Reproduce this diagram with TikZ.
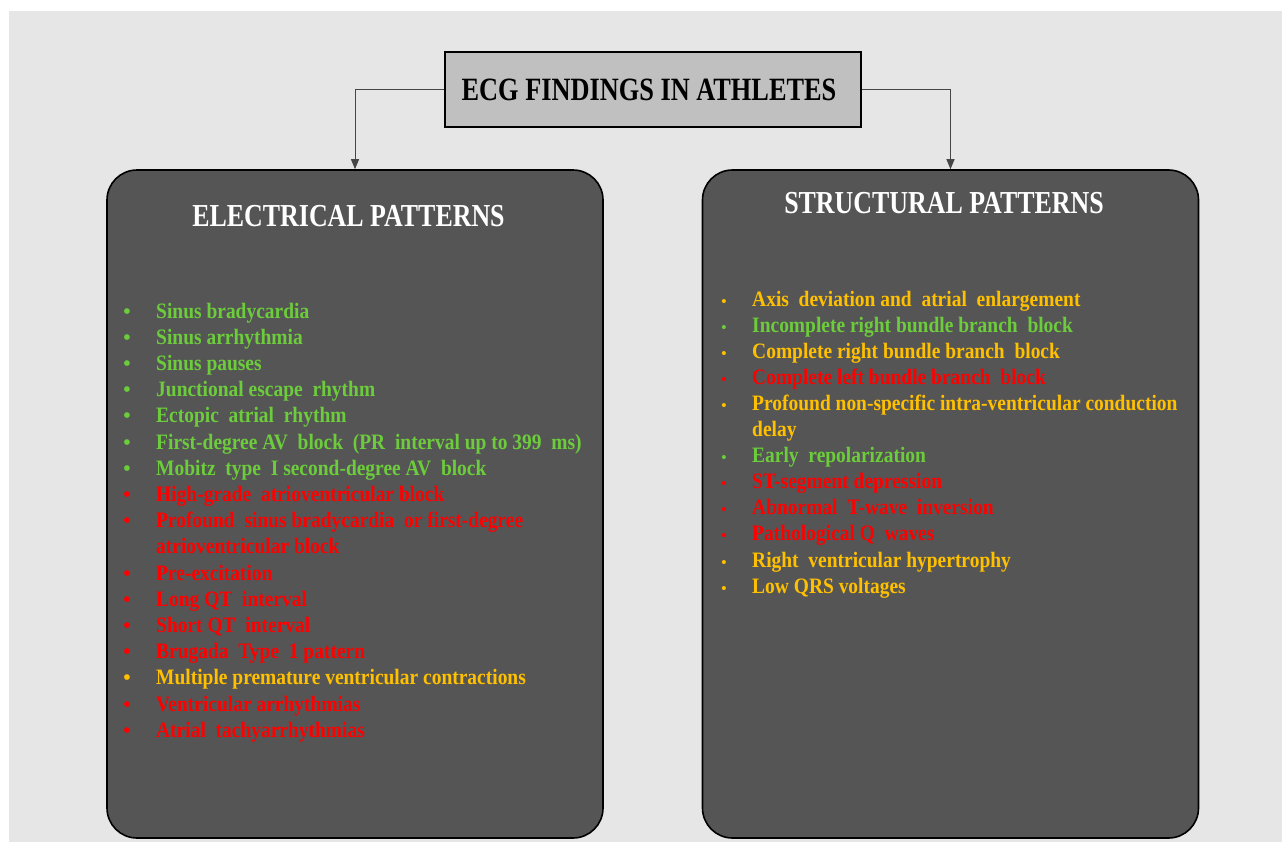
\documentclass[tikz,border=0pt]{standalone}
\usepackage{fontspec}
\setmainfont{Liberation Serif}
\newfontfamily\hdfont{Liberation Serif}[FakeStretch=0.81]
\newfontfamily\itfont{Liberation Serif}[FakeStretch=0.885]
\usetikzlibrary{arrows.meta}
\definecolor{bgc}{RGB}{230,230,230}
\definecolor{titlec}{RGB}{192,192,192}
\definecolor{panelc}{RGB}{85,85,85}
\definecolor{grn}{RGB}{108,204,60}
\definecolor{yel}{RGB}{255,192,0}
\definecolor{rd}{RGB}{255,0,0}
\definecolor{linec}{RGB}{70,70,70}
\tikzset{
  panel/.style={draw=black, line width=1.6pt, fill=panelc, rounded corners=30pt,
    minimum width=496pt, minimum height=668pt, inner sep=0pt},
  titlebox/.style={draw=black, line width=1.6pt, fill=titlec, minimum width=416pt,
    minimum height=75pt, inner sep=0pt},
  titletext/.style={anchor=base, inner sep=0pt, font=\hdfont\bfseries\fontsize{32.5}{38}\selectfont},
  header/.style={anchor=base, text=white, inner sep=0pt, font=\hdfont\bfseries\fontsize{32}{36}\selectfont},
  itm/.style={anchor=base west, inner sep=0pt, align=left, font=\itfont\bfseries\fontsize{22}{26.2}\selectfont},
  bul/.style={anchor=base, inner sep=0pt, font=\bfseries\fontsize{21}{24}\selectfont},
  bulr/.style={anchor=base, inner sep=0pt, font=\bfseries\fontsize{15}{18}\selectfont},
  conn/.style={draw=linec, line width=1pt, -{Triangle[width=8pt,length=10pt]}}
}
\begin{document}
\begin{tikzpicture}[x=1pt,y=-1pt]
\useasboundingbox (0,0) rectangle (1282,843);
\fill[white] (0,0) rectangle (1282,843);
\fill[bgc] (9,11) rectangle (1282,842);

\node[titlebox] (title) at (653,89.5) {};
\node[titletext] (titlet) at (649,100) {ECG FINDINGS IN ATHLETES};
\node[panel] (elec) at (355,504) {};
\node[panel] (struct) at (950.5,504) {};
\draw[conn] (title.west) -| (elec.north);
\draw[conn] (title.east) -| (struct.north);

\node[header] (eh) at (348.5,226.7) {ELECTRICAL PATTERNS};
\node[header] (sh) at (944,213.3) {STRUCTURAL PATTERNS};

% left list
\foreach \i/\c/\t in {
 0/grn/{Sinus bradycardia},
 1/grn/{Sinus arrhythmia},
 2/grn/{Sinus pauses},
 3/grn/{Junctional escape\ \ rhythm},
 4/grn/{Ectopic\ \ atrial\ \ rhythm},
 5/grn/{First-degree AV\ \ block\ \ (PR\ \ interval up to 399\ \ ms)},
 6/grn/{Mobitz\ \ type\ \ I second-degree AV\ \ block},
 7/rd/{High-grade\ \ atrioventricular block},
 10/rd/{Pre-excitation},
 11/rd/{Long QT\ \ interval},
 12/rd/{Short QT\ \ interval},
 13/rd/{Brugada\ \ Type\ \ 1 pattern},
 14/yel/{Multiple premature ventricular contractions},
 15/rd/{Ventricular arrhythmias},
 16/rd/{Atrial\ \ tachyarrhythmias}}{
  \node[bul,text=\c] (lb\i) at (127,318+26.2*\i) {•};
  \node[itm,text=\c] (li\i) at (156,318+26.2*\i) {\t};
}
\node[bul,text=rd] (lb8) at (127,318+26.2*8) {•};
\node[itm,text=rd] (li8) at (156,318+26.2*9) {Profound\ \ sinus bradycardia\ \ or first-degree\\atrioventricular block};

% right list
\foreach \i/\c/\t in {
 0/yel/{Axis\ \ deviation and\ \ atrial\ \ enlargement},
 1/grn/{Incomplete right bundle branch\ \ block},
 2/yel/{Complete right bundle branch\ \ block},
 3/rd/{Complete left bundle branch\ \ block},
 6/grn/{Early\ \ repolarization},
 7/rd/{ST-segment depression},
 8/rd/{Abnormal\ \ T-wave\ \ inversion},
 9/rd/{Pathological Q\ \ waves},
 10/yel/{Right\ \ ventricular hypertrophy},
 11/yel/{Low QRS voltages}}{
  \node[bulr,text=\c] (rb\i) at (724,306+26.1*\i) {•};
  \node[itm,text=\c] (ri\i) at (752,306+26.1*\i) {\t};
}
\node[bulr,text=yel] (rb4) at (724,306+26.1*4) {•};
\node[itm,text=yel] (ri4) at (752,306+26.1*5) {Profound non-specific intra-ventricular conduction\\delay};
\end{tikzpicture}
\end{document}
